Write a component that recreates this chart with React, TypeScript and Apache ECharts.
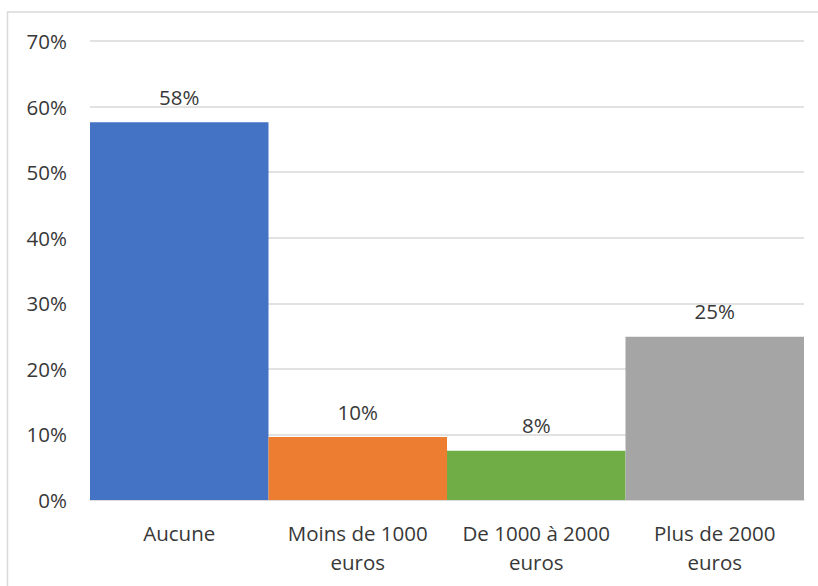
import React, { useEffect, useRef } from "react";
import * as echarts from "echarts";

const categories = ["Aucune", "Moins de 1000\neuros", "De 1000 à 2000\neuros", "Plus de 2000\neuros"];
const values = [57.6, 9.6, 7.5, 24.9];
const barColors = ["#4472C4", "#ED7D31", "#70AD47", "#A5A5A5"];
const yTicks = [0, 10, 20, 30, 40, 50, 60, 70];

const FONT = "Open Sans";
const TEXT = "#383838";
const FS = 20.5;

export default function App() {
  const ref = useRef<HTMLDivElement>(null);
  useEffect(() => {
    if (!ref.current) return;
    const chart = echarts.init(ref.current, null, { renderer: "svg" });
    chart.setOption({
      animation: false,
      backgroundColor: "#ffffff",
      graphic: [
        {
          type: "rect",
          shape: { x: 7.5, y: 12, width: 830, height: 600 },
          style: { fill: "none", stroke: "#d9d9d9", lineWidth: 1.5 },
          silent: true,
        },
      ],
      grid: { left: 90, right: 14, top: 41, bottom: 86 },
      xAxis: {
        type: "category",
        data: categories,
        axisTick: { show: false },
        axisLine: { show: true, lineStyle: { color: "#d9d9d9", width: 1.5 } },
        axisLabel: {
          color: TEXT,
          fontFamily: FONT,
          fontSize: FS,
          lineHeight: 29,
          margin: 18,
          interval: 0,
        },
      },
      yAxis: {
        type: "value",
        min: yTicks[0],
        max: yTicks[yTicks.length - 1],
        interval: 10,
        axisLine: { show: false },
        axisTick: { show: false },
        splitLine: { lineStyle: { color: "#d9d9d9", width: 1.5 } },
        axisLabel: {
          color: TEXT,
          fontFamily: FONT,
          fontSize: FS,
          margin: 23,
          formatter: (v: number) => `${v}%`,
        },
      },
      series: [
        {
          type: "bar",
          barCategoryGap: "0%",
          data: values.map((v, i) => ({ value: v, itemStyle: { color: barColors[i] } })),
          label: {
            show: true,
            position: "top",
            distance: 15,
            color: TEXT,
            fontFamily: FONT,
            fontSize: FS,
            formatter: (p: any) => `${Math.round(p.value)}%`,
          },
        },
      ],
    });
    return () => chart.dispose();
  }, []);
  return (
    <div
      ref={ref}
      style={{ position: "fixed", left: 0, top: 0, width: 818, height: 586 }}
    />
  );
}
